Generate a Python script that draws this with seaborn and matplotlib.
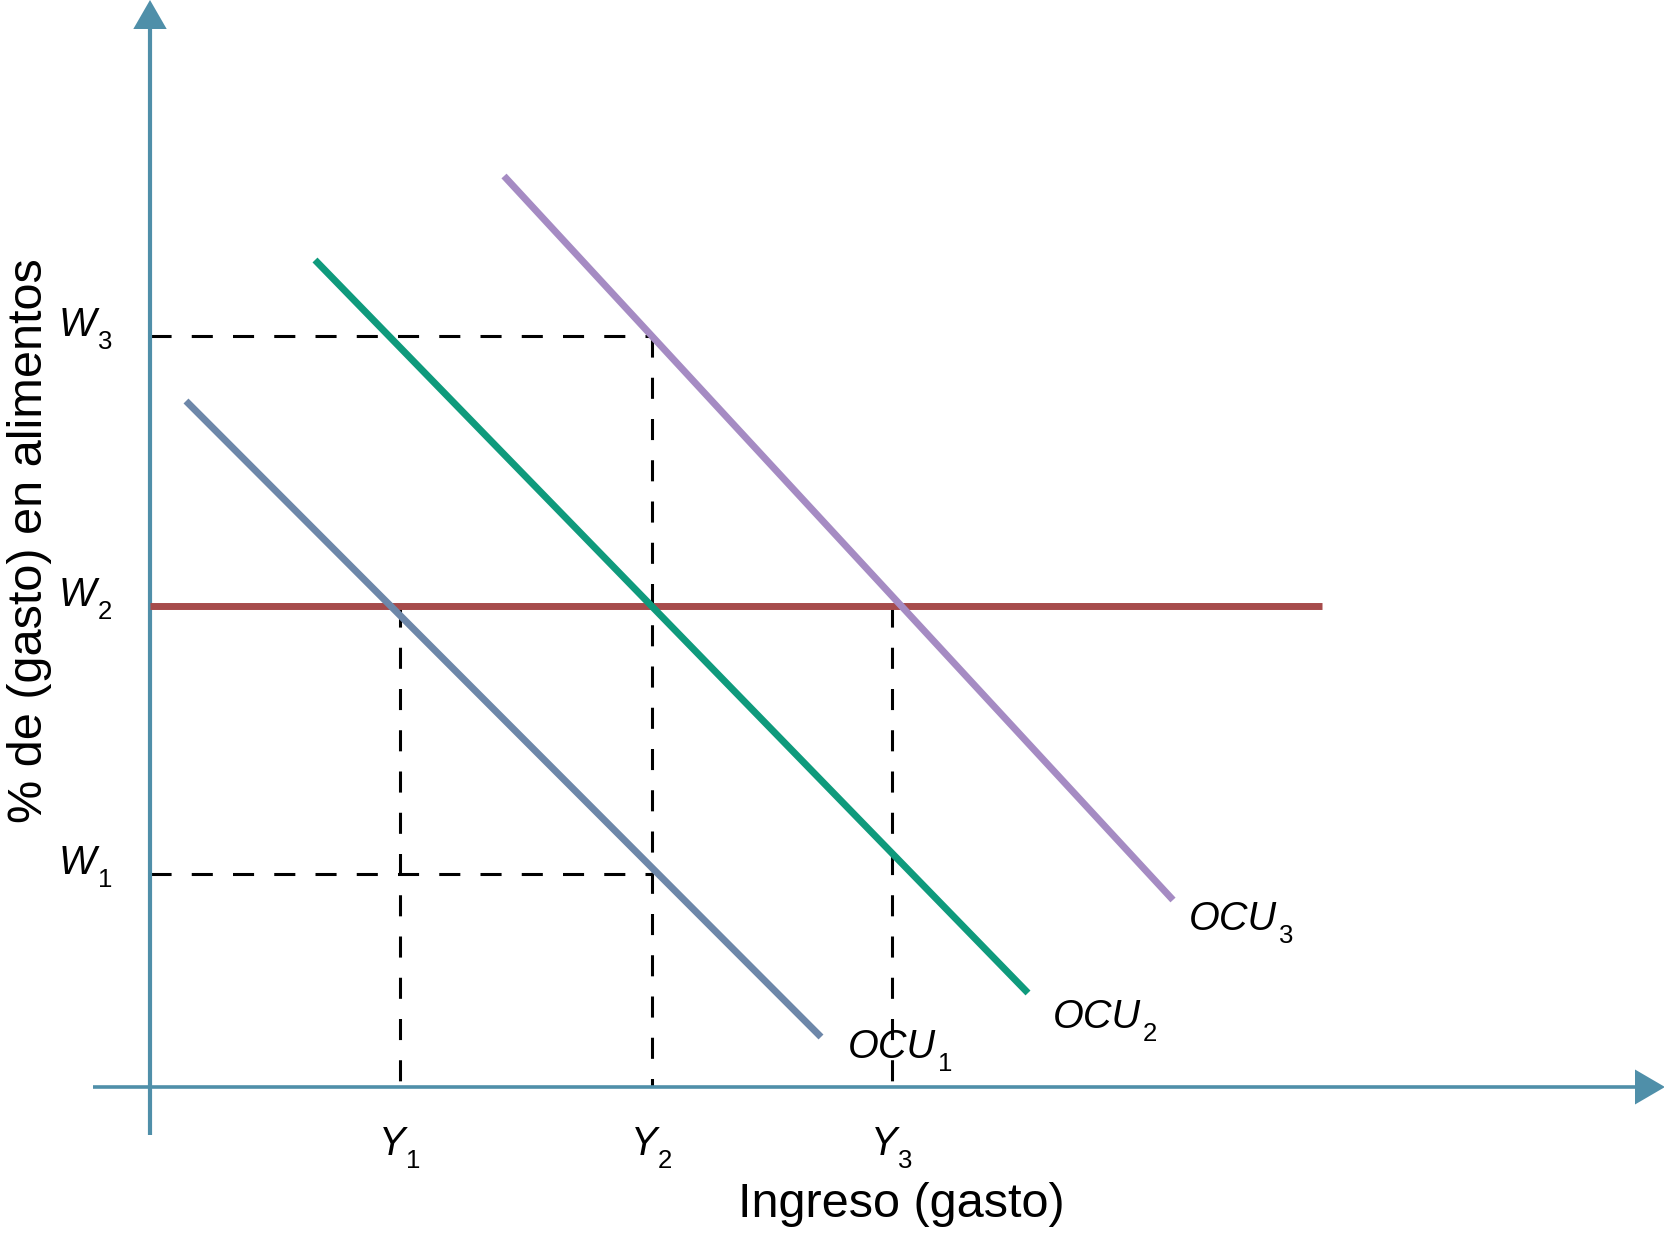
import numpy as np
import pandas as pd
import matplotlib
matplotlib.use("Agg")
import matplotlib.pyplot as plt
import seaborn as sns

# ---------------- data (chart units) ----------------
y_tick_pos = [25.0, 50.2, 74.2]
y_tick_main = ["Y", "Y", "Y"]
y_tick_sub = ["1", "2", "3"]
w_tick_pos = [21.3, 48.1, 75.1]
w_tick_main = ["W", "W", "W"]
w_tick_sub = ["1", "2", "3"]

curve_names = ["OCU1", "OCU2", "OCU3"]
ocu1_x = [3.6, 67.1]
ocu1_y = [68.6, 5.0]
ocu2_x = [16.5, 87.8]
ocu2_y = [82.7, 9.4]
ocu3_x = [35.4, 102.3]
ocu3_y = [91.1, 18.7]
curve_main = ["OCU", "OCU", "OCU"]
curve_sub = ["1", "2", "3"]

red_x = [0.0, 117.2]
red_y = [48.1, 48.1]

xlabel = "Ingreso (gasto)"
ylabel = "% de (gasto) en alimentos"

# ---------------- style ----------------
sns.set_theme(style="white")
plt.rcParams["font.family"] = ["Liberation Sans", "DejaVu Sans"]
plt.rcParams["text.color"] = "black"

axis_c = "#4f8fa9"
palette = {"OCU1": "#6d87a9", "OCU2": "#0f9a7c", "OCU3": "#a58bc3"}
red_c = "#a64b4b"

fig = plt.figure(figsize=(16.65, 12.46), dpi=100)
ax = fig.add_axes([0, 0, 1, 1])
ax.set_xlim(-15, 151.5)
ax.set_ylim(-15.9, 108.7)
ax.axis("off")

# dashed guides
dash_kw = dict(color="black", lw=2.2, dashes=(6.9, 6.6))
ax.plot([0, y_tick_pos[1]], [w_tick_pos[2], w_tick_pos[2]], **dash_kw)
ax.plot([0, y_tick_pos[1]], [w_tick_pos[0], w_tick_pos[0]], **dash_kw)
ax.plot([y_tick_pos[1], y_tick_pos[1]], [w_tick_pos[2], 0], **dash_kw)
ax.plot([y_tick_pos[0], y_tick_pos[0]], [w_tick_pos[1], 0], **dash_kw)
ax.plot([y_tick_pos[2], y_tick_pos[2]], [w_tick_pos[1], 0], **dash_kw)

# axes with arrows
ax.plot([0, 0], [-4.8, 106.0], color=axis_c, lw=3.0, solid_capstyle="butt")
ax.plot([-5.7, 149.0], [0, 0], color=axis_c, lw=2.6, solid_capstyle="butt")
ax.fill([0, -1.67, 1.67], [108.7, 105.8, 105.8], color=axis_c, lw=0)
ax.fill([151.5, 148.5, 148.5], [0, 1.75, -1.75], color=axis_c, lw=0)

# red horizontal line
sns.lineplot(x=red_x, y=red_y, color=red_c, lw=5, ax=ax, sort=False,
             solid_capstyle="butt")

# OCU curves
df = pd.DataFrame({
    "x": ocu1_x + ocu2_x + ocu3_x,
    "y": ocu1_y + ocu2_y + ocu3_y,
    "curve": [curve_names[0]] * 2 + [curve_names[1]] * 2 + [curve_names[2]] * 2,
})
sns.lineplot(data=df, x="x", y="y", hue="curve", palette=palette, lw=5,
             sort=False, legend=False, ax=ax, solid_capstyle="butt")

MAIN_FS = 28.5
SUB_FS = 18.5


def sub_label(x, y, main, sub, ha="left", dx=1.5, dy=-9.5):
    t = ax.text(x, y, main, fontsize=MAIN_FS, style="italic", ha=ha,
                va="baseline", color="black")
    fig.canvas.draw()
    bb = t.get_window_extent(renderer=fig.canvas.get_renderer())
    inv = ax.transData.inverted()
    (rx, _), = inv.transform([(bb.x1, bb.y0)])
    ax.annotate(sub, xy=(rx, y), xycoords="data", xytext=(dx, dy),
                textcoords="offset points", fontsize=SUB_FS, ha="left",
                va="baseline", color="black")


# curve labels
label_pos = [(69.8, 2.9), (90.3, 5.9), (103.9, 15.7)]
for (lx, ly), m, s in zip(label_pos, curve_main, curve_sub):
    sub_label(lx, ly, m, s, dx=1.0)

# tick labels
for pos, m, s in zip(w_tick_pos, w_tick_main, w_tick_sub):
    sub_label(-7.3, pos, m, s, ha="center", dx=1.5)
for pos, m, s in zip(y_tick_pos, y_tick_main, y_tick_sub):
    sub_label(pos - 0.75, -6.8, m, s, ha="center", dx=0.2)

# axis titles
ax.text(75.1, -13.0, xlabel, fontsize=35, ha="center", va="baseline",
        color="black")
ax.text(-12.0, 54.6, ylabel, fontsize=35, ha="center", va="center",
        rotation=90, color="black")

fig.savefig("out.png", dpi=100)
